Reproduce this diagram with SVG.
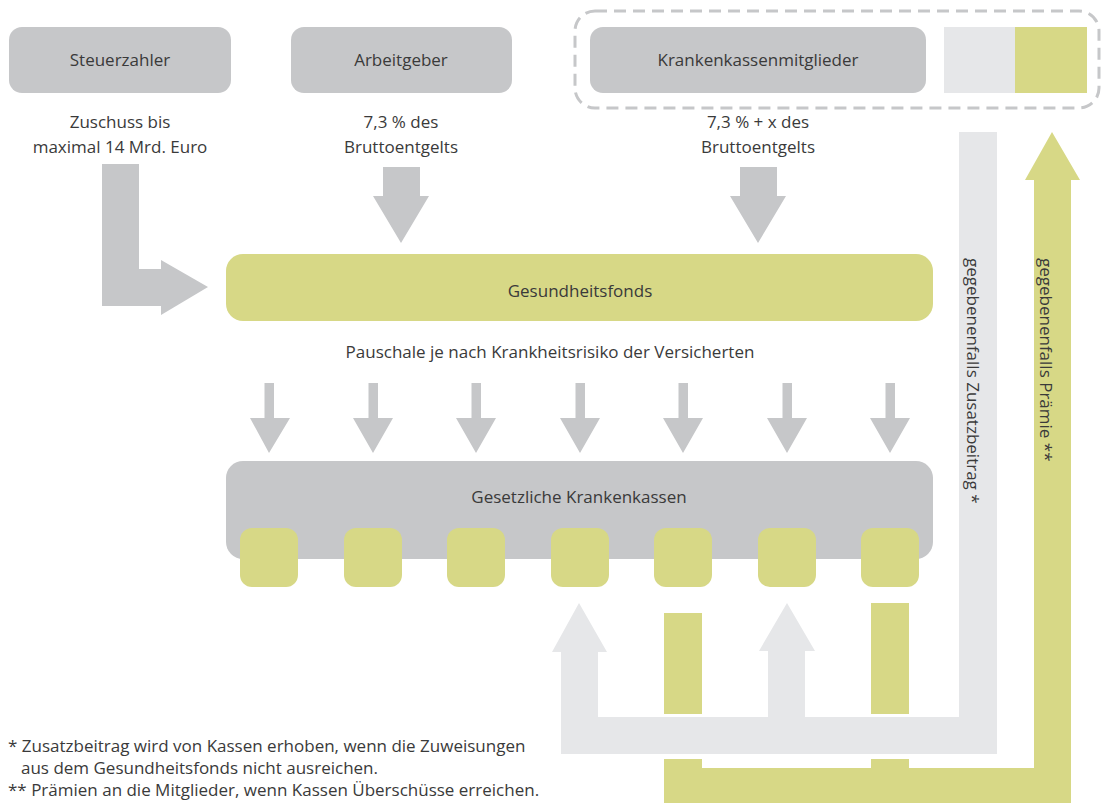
<svg xmlns="http://www.w3.org/2000/svg" width="1102" height="803" viewBox="0 0 1102 803">
<style>
text{font-family:"Open Sans","Noto Sans","Liberation Sans",sans-serif;font-size:17px;fill:#3a3a3a}
.c{text-anchor:middle}
.dg{fill:#c6c7c9}
.lg{fill:#e6e7e9}
.gr{fill:#d7d886}
</style>
<rect width="1102" height="803" fill="#ffffff"/>
<g id="connectors">
<path class="dg" d="M102,164 H139 V269 H161 V260 L208,287 L161,315 V306 H102 Z"/>
<path class="dg" d="M383,167 H420 V196 H429 L401,243 L373,196 H383 Z"/>
<path class="dg" d="M740,167 H777 V196 H786 L758,243 L730,196 H740 Z"/>
<g class="dg">
<path d="M264.5,383 H274 V418 H290 L269,453 L250,418 H264.5 Z"/>
<path d="M368.5,383 H378 V418 H393 L373,453 L353,418 H368.5 Z"/>
<path d="M471.5,383 H481 V418 H496 L476,453 L456,418 H471.5 Z"/>
<path d="M575.5,383 H585 V418 H600 L580,453 L560,418 H575.5 Z"/>
<path d="M678.5,383 H688 V418 H703 L683,453 L663,418 H678.5 Z"/>
<path d="M782.5,383 H792 V418 H807 L787,453 L767,418 H782.5 Z"/>
<path d="M885.5,383 H895 V418 H910 L890,453 L870,418 H885.5 Z"/>
</g>
<path class="lg" d="M561,754 V652 H552 L579,603 L607,652 H598 V717 H768 V651 H759 L787,603 L815,651 H805 V717 H959 V132 H997 V754 Z"/>
<rect class="gr" x="664" y="613" width="38" height="101"/>
<rect class="gr" x="871" y="603" width="38" height="111"/>
<path class="gr" d="M664,759 H702 V768 H871 V759 H909 V768 H1034 V180 H1025 L1052,132 L1080,180 H1071 V803 H664 Z"/>
<text transform="translate(967,258) rotate(90)">gegebenenfalls Zusatzbeitrag *</text>
<text transform="translate(1040,258) rotate(90)">gegebenenfalls Prämie **</text>
</g>
<g id="steuerzahler">
<rect class="dg" x="9" y="27" width="222" height="66" rx="13"/>
<text class="c" x="120" y="66">Steuerzahler</text>
<text class="c" x="120" y="128">Zuschuss bis</text>
<text class="c" x="120" y="153">maximal 14 Mrd. Euro</text>
</g>
<g id="arbeitgeber">
<rect class="dg" x="291" y="27" width="221" height="66" rx="13"/>
<text class="c" x="401" y="66">Arbeitgeber</text>
<text class="c" x="401" y="128">7,3 % des</text>
<text class="c" x="401" y="153">Bruttoentgelts</text>
</g>
<g id="mitglieder">
<rect x="575" y="11" width="524" height="97" rx="20" fill="none" stroke="#c6c7c9" stroke-width="3" stroke-dasharray="12 7"/>
<rect class="dg" x="590" y="27" width="336" height="66" rx="13"/>
<rect class="lg" x="944" y="27" width="71" height="66"/>
<rect class="gr" x="1015" y="27" width="72" height="66"/>
<text class="c" x="758" y="66">Krankenkassenmitglieder</text>
<text class="c" x="758" y="128">7,3 % + x des</text>
<text class="c" x="758" y="153">Bruttoentgelts</text>
</g>
<g id="gesundheitsfonds">
<rect class="gr" x="226" y="254" width="707" height="67" rx="17"/>
<text class="c" x="580" y="297">Gesundheitsfonds</text>
</g>
<text class="c" x="550" y="358">Pauschale je nach Krankheitsrisiko der Versicherten</text>
<g id="krankenkassen">
<rect class="dg" x="226" y="461" width="707" height="98" rx="17"/>
<text class="c" x="579" y="503">Gesetzliche Krankenkassen</text>
<g class="gr">
<rect x="240" y="528" width="58" height="59" rx="12"/>
<rect x="344" y="528" width="58" height="59" rx="12"/>
<rect x="447" y="528" width="58" height="59" rx="12"/>
<rect x="551" y="528" width="58" height="59" rx="12"/>
<rect x="654" y="528" width="58" height="59" rx="12"/>
<rect x="758" y="528" width="58" height="59" rx="12"/>
<rect x="861" y="528" width="58" height="59" rx="12"/>
</g>
</g>
<g id="footnotes">
<text x="8" y="752">* Zusatzbeitrag wird von Kassen erhoben, wenn die Zuweisungen</text>
<text x="21" y="774">aus dem Gesundheitsfonds nicht ausreichen.</text>
<text x="8" y="796">** Prämien an die Mitglieder, wenn Kassen Überschüsse erreichen.</text>
</g>
</svg>
